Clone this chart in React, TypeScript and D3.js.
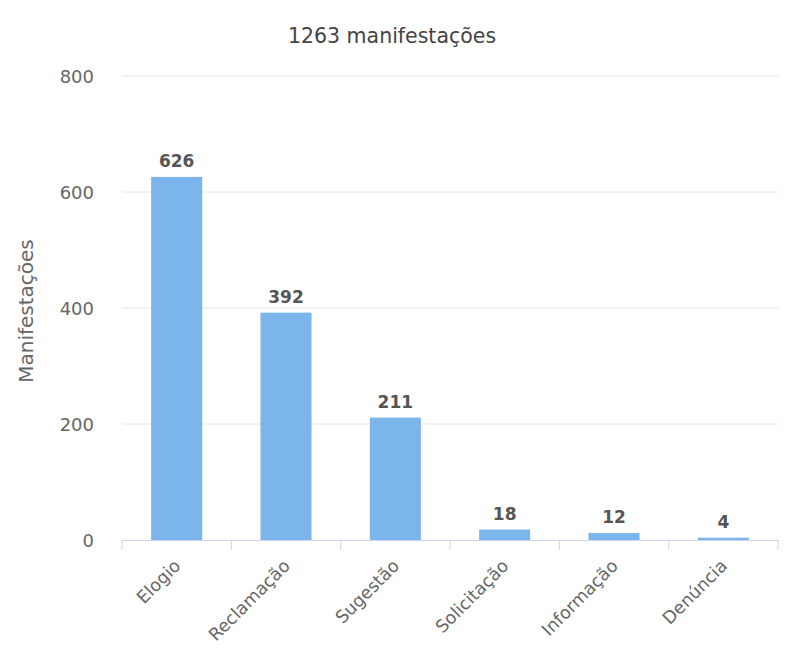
import React from "react";
import * as d3 from "d3";

const categories = ["Elogio", "Reclamação", "Sugestão", "Solicitação", "Informação", "Denúncia"];
const values = [626, 392, 211, 18, 12, 4];
const yTicks = [0, 200, 400, 600, 800];
const chartTitle = "1263 manifestações";
const yAxisTitle = "Manifestações";

const W = 785;
const H = 652;
const FONT = "'DejaVu Sans', sans-serif";

export default function App() {
  const left = 122, right = 778, top = 76, bottom = 540;
  const x = d3.scaleBand<string>().domain(categories).range([left, right]).paddingInner(0.533).paddingOuter(0.2665);
  const y = d3.scaleLinear().domain([0, 800]).range([bottom, top]);
  const step = x.step();
  const tickXs = d3.range(categories.length + 1).map((i) => left + i * step);

  return (
    <svg width={W} height={H} style={{ position: "absolute", left: 0, top: 0, background: "#fff" }} fontFamily={FONT}>
      <rect x={0} y={0} width={W} height={H} fill="#fff" />
      <text x={392} y={43} textAnchor="middle" fontSize={20.5} fill="#444">{chartTitle}</text>
      {yTicks.map((t) => (
        <g key={t}>
          {t !== 0 && <line x1={left} x2={right} y1={y(t)} y2={y(t)} stroke="#e6e6e6" strokeWidth={1} />}
          <text x={94} y={y(t) + 7} textAnchor="end" fontSize={18} fill="#666">{t}</text>
        </g>
      ))}
      <text transform={`translate(33, 311) rotate(-90)`} textAnchor="middle" fontSize={20} fill="#666">{yAxisTitle}</text>
      {categories.map((c, i) => (
        <rect key={c} x={x(c)} y={y(values[i])} width={x.bandwidth()} height={bottom - y(values[i])} fill="#7cb5ec" />
      ))}
      <line x1={left} x2={right} y1={bottom + 0.5} y2={bottom + 0.5} stroke="#ccd6eb" strokeWidth={1} />
      {tickXs.map((tx, i) => (
        <line key={i} x1={tx} x2={tx} y1={bottom} y2={bottom + 10} stroke="#ccd6eb" strokeWidth={1} />
      ))}
      {categories.map((c, i) => (
        <text key={c} x={x(c)! + x.bandwidth() / 2} y={y(values[i]) - 10} textAnchor="middle" fontSize={17} fontWeight="bold" fill="#555" stroke="#fff" strokeWidth={3} paintOrder="stroke">{values[i]}</text>
      ))}
      {categories.map((c) => {
        const cx = x(c)! + x.bandwidth() / 2;
        return (
          <text key={c} transform={`translate(${cx + 5}, 567) rotate(-45)`} textAnchor="end" fontSize={17.5} fill="#666">{c}</text>
        );
      })}
    </svg>
  );
}
